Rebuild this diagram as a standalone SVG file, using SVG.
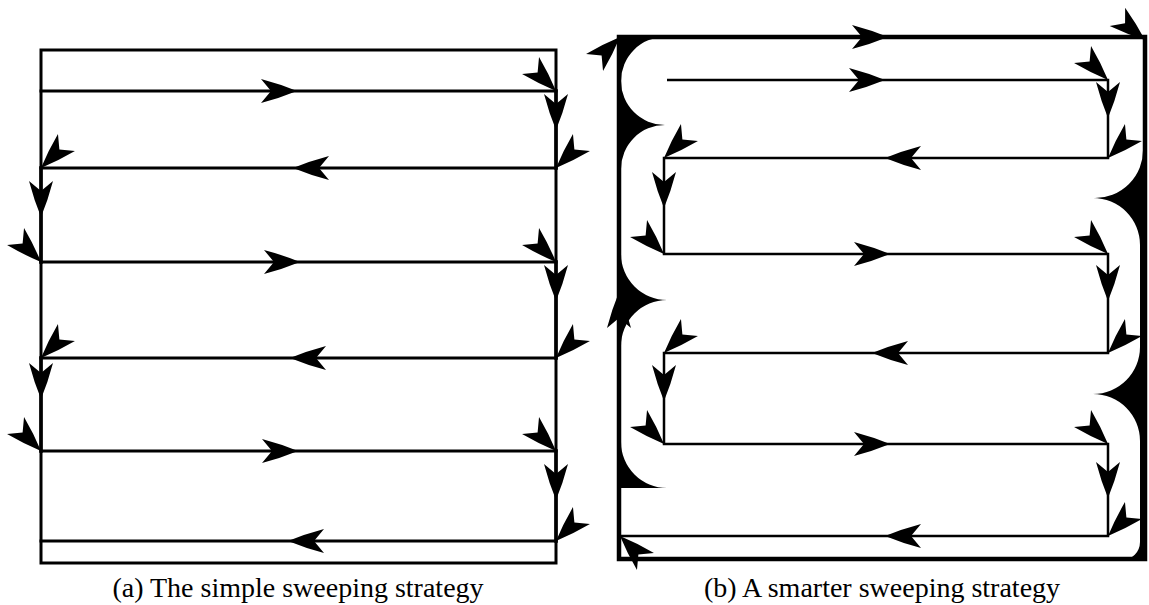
<svg xmlns="http://www.w3.org/2000/svg" xmlns:xlink="http://www.w3.org/1999/xlink" width="1149" height="605" viewBox="0 0 1149 605">
<style>
.ln{fill:none;stroke:#000;stroke-width:3;stroke-linecap:square}
.thin{fill:none;stroke:#000;stroke-width:2.5}
.thick{fill:none;stroke:#000;stroke-width:4.5;stroke-linecap:square}
.blk{fill:#000;stroke:none}
.cap{font-family:"Liberation Serif","DejaVu Serif",serif;font-size:28px;fill:#000;text-anchor:middle}
</style>
<defs>
<path id="ah" d="M0,0 Q-17,-7 -36,-12 L-26,0 L-36,12 Q-17,7 0,0 Z" fill="#000"/>
</defs>
<rect width="1149" height="605" fill="#fff"/>

<g id="panel-a">
  <g id="a-connectors">
    <rect class="ln" x="41" y="50" width="515" height="513"/>
    <path class="ln" d="M41,91 H556 M556,168 H41 M41,262 H556 M556,358 H41 M41,451 H556 M556,541 H41"/>
    <path class="ln" d="M41,168 V262 M41,358 V451 M556,91 V168 M556,262 V358 M556,451 V541" style="stroke-width:3.5"/>
  </g>
  <g id="a-arrows">
    <use href="#ah" transform="translate(297,91)"/>
    <use href="#ah" transform="translate(293,168) rotate(180)"/>
    <use href="#ah" transform="translate(300,262)"/>
    <use href="#ah" transform="translate(290,358) rotate(180)"/>
    <use href="#ah" transform="translate(298,451)"/>
    <use href="#ah" transform="translate(288,541) rotate(180)"/>
    <use href="#ah" transform="translate(556,91) rotate(45)"/>
    <use href="#ah" transform="translate(556,168) rotate(135)"/>
    <use href="#ah" transform="translate(556,262) rotate(45)"/>
    <use href="#ah" transform="translate(556,358) rotate(135)"/>
    <use href="#ah" transform="translate(556,451) rotate(45)"/>
    <use href="#ah" transform="translate(556,541) rotate(135)"/>
    <use href="#ah" transform="translate(41,168) rotate(135)"/>
    <use href="#ah" transform="translate(41,262) rotate(45)"/>
    <use href="#ah" transform="translate(41,358) rotate(135)"/>
    <use href="#ah" transform="translate(41,451) rotate(45)"/>
    <use href="#ah" transform="translate(556,130) rotate(90)"/>
    <use href="#ah" transform="translate(556,301) rotate(90)"/>
    <use href="#ah" transform="translate(556,500) rotate(90)"/>
    <use href="#ah" transform="translate(41,217) rotate(90)"/>
    <use href="#ah" transform="translate(41,399) rotate(90)"/>
  </g>
</g>

<g id="panel-b">
  <g id="b-uncovered">
    <path class="blk" d="M619,37 L665,37 A44,44 0 0 0 621,81 A44,44 0 0 0 665,125 A44,44 0 0 0 621,169 L621,254 A46,46 0 0 0 667,300 A46,46 0 0 0 621,346 L621,442 A46,46 0 0 0 667,488 L619,488 Z"/>
    <path class="blk" d="M1147,135 L1147,560 L1122,560 A18,18 0 0 0 1140,542 L1140,441 A47,47 0 0 0 1093,394 A47,47 0 0 0 1140,347 L1140,245 A47,47 0 0 0 1093,198 A48,48 0 0 0 1143,148 Z"/>
  </g>
  <g id="b-connectors">
    <path class="thick" d="M619,559 V37 H1145 V559 H619"/>
    <path class="thin" d="M667,80 H1108 V158 H664 V254 H1108 V353 H664 V444 H1108 V536 H620"/>
  </g>
  <g id="b-arrows">
    <use href="#ah" transform="translate(888,37)"/>
    <use href="#ah" transform="translate(885,80)"/>
    <use href="#ah" transform="translate(885,158) rotate(180)"/>
    <use href="#ah" transform="translate(890,254)"/>
    <use href="#ah" transform="translate(872,353) rotate(180)"/>
    <use href="#ah" transform="translate(890,444)"/>
    <use href="#ah" transform="translate(885,536) rotate(180)"/>
    <use href="#ah" transform="translate(620,37) rotate(-45)"/>
    <use href="#ah" transform="translate(1145,40) rotate(40)"/>
    <use href="#ah" transform="translate(1108,80) rotate(45)"/>
    <use href="#ah" transform="translate(1108,158) rotate(135)"/>
    <use href="#ah" transform="translate(664,158) rotate(135)"/>
    <use href="#ah" transform="translate(664,254) rotate(45)"/>
    <use href="#ah" transform="translate(1108,254) rotate(45)"/>
    <use href="#ah" transform="translate(1108,353) rotate(135)"/>
    <use href="#ah" transform="translate(664,353) rotate(135)"/>
    <use href="#ah" transform="translate(664,444) rotate(45)"/>
    <use href="#ah" transform="translate(1108,444) rotate(45)"/>
    <use href="#ah" transform="translate(1108,536) rotate(135)"/>
    <use href="#ah" transform="translate(620,536) rotate(225)"/>
    <use href="#ah" transform="translate(1108,118) rotate(90)"/>
    <use href="#ah" transform="translate(664,208) rotate(90)"/>
    <use href="#ah" transform="translate(1108,301) rotate(90)"/>
    <use href="#ah" transform="translate(664,401) rotate(90)"/>
    <use href="#ah" transform="translate(1108,498) rotate(90)"/>
    <use href="#ah" transform="translate(619,292) rotate(-90)"/>
  </g>
</g>

<g id="captions">
  <text class="cap" x="298" y="597">(a) The simple sweeping strategy</text>
  <text class="cap" x="882" y="597">(b) A smarter sweeping strategy</text>
</g>
</svg>
